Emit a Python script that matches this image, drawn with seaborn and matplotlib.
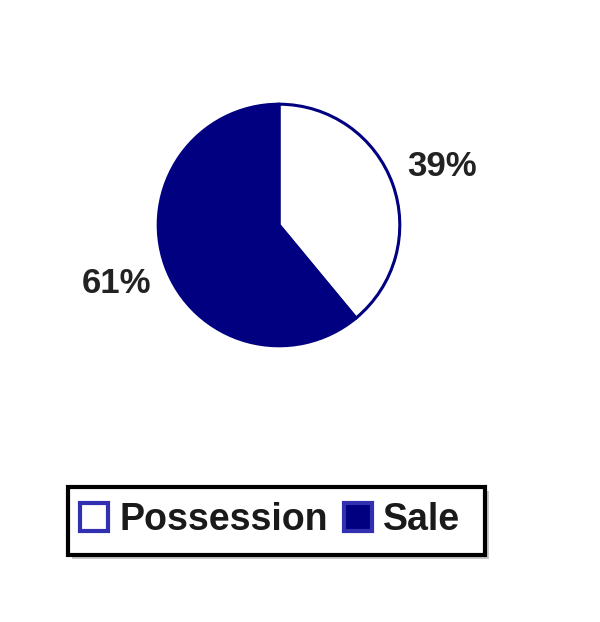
import matplotlib
matplotlib.use("Agg")
import seaborn as sns
import matplotlib.pyplot as plt
from matplotlib.patches import Rectangle

# data
categories = ["Possession", "Sale"]
shares = [39, 61]
face_colors = ["white", "#000080"]

sns.set_style("white")
plt.rcParams["font.family"] = ["Liberation Sans", "DejaVu Sans"]

W, H = 600, 622
fig = plt.figure(figsize=(W / 100, H / 100), dpi=100)
# pie box in pixels: x 157..401, y 103..347
ax = fig.add_axes([157 / W, 1 - 347 / H, 244 / W, 244 / H])

wedges, texts, autotexts = ax.pie(
    shares,
    colors=face_colors,
    startangle=90,
    counterclock=False,
    autopct="%.0f%%",
    pctdistance=1.43,
    wedgeprops=dict(edgecolor="#000080", linewidth=2.2),
    textprops=dict(fontsize=25, fontweight="bold", color="#222222"),
)
ax.set_xlim(-1.01, 1.01)
ax.set_ylim(-1.01, 1.01)
ax.set_aspect("auto")
ax.axis("off")

# legend box drawn by hand (x 68..485, y 487..555) with a grey shadow
bx0, by0, bx1, by1 = 68, 487, 485, 555
bw, bh = (bx1 - bx0) / W, (by1 - by0) / H
fig.patches.append(Rectangle(((bx0 + 4) / W, 1 - (by1 + 4) / H), bw, bh,
                             transform=fig.transFigure, facecolor="#c8c8c8",
                             edgecolor="none", zorder=1))
fig.patches.append(Rectangle((bx0 / W, 1 - by1 / H), bw, bh,
                             transform=fig.transFigure, facecolor="white",
                             edgecolor="black", linewidth=3, zorder=2))

leg = fig.legend(
    wedges, categories,
    loc="center left", bbox_to_anchor=(80 / W, 1 - 520 / H),
    ncol=2, frameon=False, prop=dict(size=27, weight="bold"),
    handlelength=0.75, handleheight=0.75, handletextpad=0.3,
    columnspacing=0.42, borderpad=0, borderaxespad=0,
)
leg.set_zorder(3)
for t in leg.get_texts():
    t.set_color("#1a1a1a")
for h in leg.legend_handles:
    h.set_linewidth(3)
    h.set_edgecolor("#3030b0")

fig.savefig("out.png", dpi=100)
